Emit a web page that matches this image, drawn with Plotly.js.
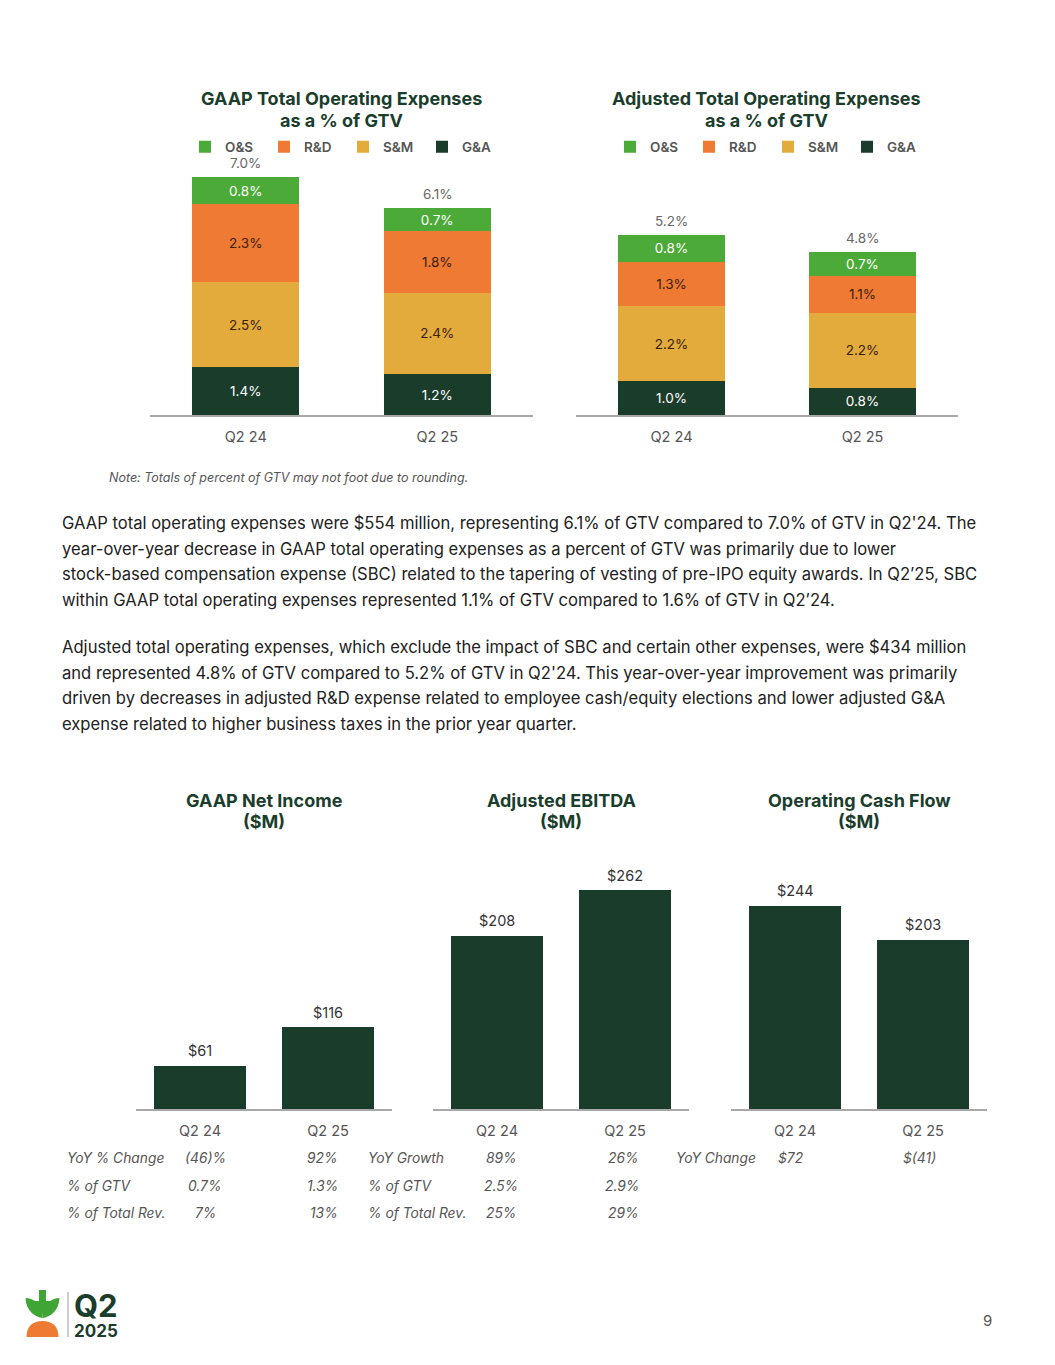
<!DOCTYPE html>
<html>
<head>
<meta charset="utf-8">
<script src="https://cdn.plot.ly/plotly-3.0.1.min.js"></script>
<style>html,body{margin:0;padding:0;background:#fff;}#chart{width:1055px;height:1365px;}</style>
</head>
<body>
<div id="chart"></div>
<script>
// ---------- DATA ----------
const categories = ['Q2 24', 'Q2 25'];
const segmentNames = ['G&A', 'S&M', 'R&D', 'O&S'];

const gaapGA = [1.4, 1.2];
const gaapSM = [2.5, 2.4];
const gaapRD = [2.3, 1.8];
const gaapOS = [0.8, 0.7];
const gaapTotals = ['7.0%', '6.1%'];

const adjGA = [1.0, 0.8];
const adjSM = [2.2, 2.2];
const adjRD = [1.3, 1.1];
const adjOS = [0.8, 0.7];
const adjTotals = ['5.2%', '4.8%'];

const netIncome = [61, 116];
const adjEbitda = [208, 262];
const opCashFlow = [244, 203];

const niRowLabels = ['YoY % Change', '% of GTV', '% of Total Rev.'];
const niQ224 = ['(46)%', '0.7%', '7%'];
const niQ225 = ['92%', '1.3%', '13%'];
const ebRowLabels = ['YoY Growth', '% of GTV', '% of Total Rev.'];
const ebQ224 = ['89%', '2.5%', '25%'];
const ebQ225 = ['26%', '2.9%', '29%'];
const cfRowLabels = ['YoY Change'];
const cfQ224 = ['$72'];
const cfQ225 = ['$(41)'];

const chartTitles = [
  ['GAAP Total Operating Expenses', 'as a % of GTV'],
  ['Adjusted Total Operating Expenses', 'as a % of GTV'],
  ['GAAP Net Income', '($M)'],
  ['Adjusted EBITDA', '($M)'],
  ['Operating Cash Flow', '($M)']
];

const para1 = [
  "GAAP total operating expenses were $554 million, representing 6.1% of GTV compared to 7.0% of GTV in Q2'24. The",
  "year-over-year decrease in GAAP total operating expenses as a percent of GTV was primarily due to lower",
  "stock-based compensation expense (SBC) related to the tapering of vesting of pre-IPO equity awards. In Q2\u201925, SBC",
  "within GAAP total operating expenses represented 1.1% of GTV compared to 1.6% of GTV in Q2\u201924."
];
const para2 = [
  "Adjusted total operating expenses, which exclude the impact of SBC and certain other expenses, were $434 million",
  "and represented 4.8% of GTV compared to 5.2% of GTV in Q2'24. This year-over-year improvement was primarily",
  "driven by decreases in adjusted R&D expense related to employee cash/equity elections and lower adjusted G&A",
  "expense related to higher business taxes in the prior year quarter."
];

// ---------- STYLE ----------
const W = 1055, H = 1365;
const X = p => p / W;
const Y = p => 1 - p / H;
const FONT = "Inter, 'Noto Sans', sans-serif";
const DARK = '#1b3d2c';
const GRAY = '#555555';
const segColors = {'O&S': '#4caa38', 'R&D': '#ee7a33', 'S&M': '#e2ab3c', 'G&A': '#1a3c2b'};
const segText = {'O&S': '#ffffff', 'R&D': '#3a200e', 'S&M': '#3a200e', 'G&A': '#ffffff'};

const traces = [];
function addStack(arrs, xa, ya, legendId) {
  arrs.forEach((vals, k) => {
    const name = segmentNames[k];
    traces.push({
      type: 'bar', x: categories, y: vals, name: name,
      xaxis: xa, yaxis: ya, legend: legendId,
      width: 0.56,
      marker: {color: segColors[name], line: {width: 0}},
      texttemplate: '%{y:.1f}%', textposition: 'inside', insidetextanchor: 'middle',
      textangle: 0, constraintext: 'none',
      textfont: {family: FONT, size: 13.5, color: segText[name]},
      hoverinfo: 'skip'
    });
  });
}
addStack([gaapGA, gaapSM, gaapRD, gaapOS], 'x', 'y', 'legend');
addStack([adjGA, adjSM, adjRD, adjOS], 'x2', 'y2', 'legend2');

function addSingle(vals, xa, ya) {
  traces.push({
    type: 'bar', x: categories, y: vals, xaxis: xa, yaxis: ya, showlegend: false,
    width: 0.72, marker: {color: '#1a3c2b'}, hoverinfo: 'skip'
  });
}
addSingle(netIncome, 'x3', 'y3');
addSingle(adjEbitda, 'x4', 'y4');
addSingle(opCashFlow, 'x5', 'y5');

const annotations = [];
function ann(o) {
  annotations.push(Object.assign({showarrow: false, xref: 'paper', yref: 'paper', xanchor: 'center', yanchor: 'middle'}, o));
}
// totals above stacked bars
function totals(arrs, labels, xa, ya) {
  categories.forEach((c, i) => {
    const s = arrs.reduce((a, arr) => a + arr[i], 0);
    ann({xref: xa, yref: ya, x: c, y: s, yshift: 14, text: labels[i],
         font: {family: FONT, size: 13.5, color: '#666'}});
  });
}
totals([gaapGA, gaapSM, gaapRD, gaapOS], gaapTotals, 'x', 'y');
totals([adjGA, adjSM, adjRD, adjOS], adjTotals, 'x2', 'y2');
// value labels above single bars
function valueLabels(vals, xa, ya) {
  categories.forEach((c, i) => {
    ann({xref: xa, yref: ya, x: c, y: vals[i], yshift: 15, text: '$' + vals[i],
         font: {family: FONT, size: 14.5, color: '#333'}});
  });
}
valueLabels(netIncome, 'x3', 'y3');
valueLabels(adjEbitda, 'x4', 'y4');
valueLabels(opCashFlow, 'x5', 'y5');

// titles (two lines each)
const titleFont = {family: FONT, size: 18, color: DARK, weight: 700};
const titlePos = [[341, 99], [766, 99], [264, 800], [561, 800], [859, 800]];
chartTitles.forEach((lines, k) => {
  lines.forEach((t, j) => ann({x: X(titlePos[k][0]), y: Y(titlePos[k][1] + 21 * j), text: t, font: titleFont}));
});

// note
ann({x: X(107), y: Y(477), xanchor: 'left',
     text: '<i>Note: Totals of percent of GTV may not foot due to rounding.</i>',
     font: {family: FONT, size: 12.5, color: GRAY}});

// paragraphs
const paraFont = {family: FONT, size: 16.6, color: '#222222'};
const p1y = [523, 549, 574, 600], p2y = [647, 673, 698, 724];
para1.forEach((t, i) => ann({x: X(60), y: Y(p1y[i]), xanchor: 'left', text: t, font: paraFont}));
para2.forEach((t, i) => ann({x: X(60), y: Y(p2y[i]), xanchor: 'left', text: t, font: paraFont}));

// tables
const tFont = {family: FONT, size: 13.8, color: GRAY, style: 'italic'};
const rowY = [1158, 1186, 1213];
function table(labels, c1, c2, xLabel, xC1, xC2) {
  labels.forEach((l, i) => {
    ann({x: X(xLabel), y: Y(rowY[i]), xanchor: 'left', text: l, font: tFont});
    ann({x: X(xC1), y: Y(rowY[i]), xanchor: 'center', text: c1[i], font: tFont});
    ann({x: X(xC2), y: Y(rowY[i]), xanchor: 'right', text: c2[i], font: tFont});
  });
}
table(niRowLabels, niQ224, niQ225, 65, 205, 340);
table(ebRowLabels, ebQ224, ebQ225, 366, 501, 641);
table(cfRowLabels, cfQ224, cfQ225, 674, 791, 938);

// logo text (one text block) + page number
ann({x: X(72), y: Y(1314), xanchor: 'left', align: 'left',
     text: "<span style='font-size:31px'>Q2</span><br><span style='font-size:17px'>2025</span>",
     font: {family: FONT, size: 15, color: DARK, weight: 700}});
ann({x: X(987), y: Y(1320), text: '9',
     font: {family: FONT, size: 15, color: GRAY}});

// logo shapes (pixel path -> paper path)
function P(cmds) {
  return cmds.replace(/(-?\d+\.?\d*),(-?\d+\.?\d*)/g, (m, a, b) => X(+a).toFixed(5) + ',' + Y(+b).toFixed(5));
}
const shapes = [
  {type: 'path', xref: 'paper', yref: 'paper', line: {width: 0}, fillcolor: '#ee7a33',
   path: P('M26.5,1337 C26.5,1326 33,1321 42.5,1321 C52,1321 58.5,1326 58.5,1337 Z')},
  {type: 'path', xref: 'paper', yref: 'paper', line: {width: 0}, fillcolor: '#3fa535',
   path: P('M39,1290 L46,1290 L46,1304 L39,1304 Z')},
  {type: 'path', xref: 'paper', yref: 'paper', line: {width: 0}, fillcolor: '#3fa535',
   path: P('M34,1301 L51,1301 L42.5,1314 Z')},
  {type: 'path', xref: 'paper', yref: 'paper', line: {width: 0}, fillcolor: '#3fa535',
   path: P('M42.5,1318 C35,1317 26,1311 25.5,1298 C33,1298 40,1304 42.5,1311 Z')},
  {type: 'path', xref: 'paper', yref: 'paper', line: {width: 0}, fillcolor: '#3fa535',
   path: P('M42.5,1318 C50,1317 59,1311 59.5,1298 C52,1298 45,1304 42.5,1311 Z')},
  {type: 'line', xref: 'paper', yref: 'paper', x0: X(68), x1: X(68), y0: Y(1292), y1: Y(1337),
   line: {color: '#9a9a9a', width: 1}}
];

function xax(a, b, anchor) {
  return {domain: [X(a), X(b)], anchor: anchor, range: [-0.5, 1.5], showline: true,
          linecolor: '#a8a8a8', linewidth: 1.5, ticks: '', showgrid: false, zeroline: false,
          tickfont: {family: FONT, size: 14.5, color: GRAY}, ticklabelstandoff: 8, fixedrange: true,
          automargin: false};
}
function yax(top, bottom, max, anchor) {
  return {domain: [Y(bottom), Y(top)], anchor: anchor, range: [0, max], visible: false, fixedrange: true,
          automargin: false};
}
const legendBase = {orientation: 'h', xanchor: 'left', yanchor: 'middle', traceorder: 'reversed',
                    entrywidth: 34, entrywidthmode: 'pixels', bgcolor: 'rgba(0,0,0,0)',
                    font: {family: FONT, size: 13.5, color: GRAY, weight: 600},
                    itemclick: false, itemdoubleclick: false};

const layout = {
  width: W, height: H, margin: {l: 0, r: 0, t: 0, b: 0, autoexpand: false},
  paper_bgcolor: '#ffffff', plot_bgcolor: 'rgba(0,0,0,0)',
  barmode: 'stack', showlegend: true, font: {family: FONT},
  xaxis: xax(150, 533, 'y'), yaxis: yax(143, 415, 8, 'x'),
  xaxis2: xax(576, 958, 'y2'), yaxis2: yax(143, 415, 8, 'x2'),
  xaxis3: xax(136, 392, 'y3'), yaxis3: yax(860, 1109, 249 / 0.706, 'x3'),
  xaxis4: xax(433, 689, 'y4'), yaxis4: yax(860, 1109, 249 / 0.834, 'x4'),
  xaxis5: xax(731, 987, 'y5'), yaxis5: yax(860, 1109, 249 / 0.834, 'x5'),
  legend: Object.assign({}, legendBase, {x: X(185), y: Y(147)}),
  legend2: Object.assign({}, legendBase, {x: X(610), y: Y(147)}),
  annotations: annotations, shapes: shapes
};

Plotly.newPlot('chart', traces, layout, {displayModeBar: false, staticPlot: true});
</script>
</body>
</html>
